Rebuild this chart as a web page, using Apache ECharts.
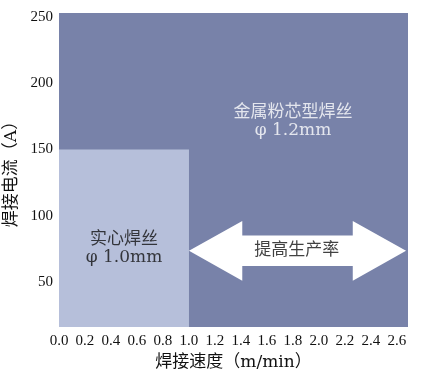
<!DOCTYPE html>
<html>
<head>
<meta charset="utf-8">
<script src="https://cdn.jsdelivr.net/npm/echarts@6/dist/echarts.min.js"></script>
<style>html,body{margin:0;padding:0;background:#fff;}#c{width:424px;height:377px;}</style>
</head>
<body>
<div id="c"></div>
<script>
var xTicks = [0, 0.2, 0.4, 0.6, 0.8, 1.0, 1.2, 1.4, 1.6, 1.8, 2.0, 2.2, 2.4, 2.6];
var yTicks = [50, 100, 150, 200, 250];
var xRange = [0, 2.685];
var yRange = [16, 253];
// solid wire region: speed 0..1.0 m/min, current up to 150 A
var solidRegion = { x: [0, 1.0], y: [16, 150] };
// arrow: from speed 1.0 to 2.67, centred at 73.5 A
var arrow = { x0: 1.0, x1: 2.67, yc: 73.5, headHalf: 22.5, shaftHalf: 11.5, headLen: 0.41 };
var labels = [
  { name: '金属粉芯型焊丝\nφ 1.2mm', x: 1.8, y: 171, color: '#ffffff' },
  { name: '实心焊丝\nφ 1.0mm', x: 0.5, y: 75, color: '#111111' },
  { name: '提高生产率', x: 1.83, y: 73.5, color: '#111111' }
];

var serif = '"DejaVu Serif", "Noto Sans CJK SC", serif';
var tickFont = '"Liberation Serif", "DejaVu Serif", serif';
var chart = echarts.init(document.getElementById('c'));
chart.setOption({
  backgroundColor: '#ffffff',
  animation: false,
  grid: { left: 59, right: 16, top: 13, bottom: 50, show: true, backgroundColor: '#7882a9', borderWidth: 0,
    containLabel: false, outerBoundsMode: 'none' },
  xAxis: {
    type: 'value', min: xRange[0], max: xRange[1],
    name: '焊接速度（m/min）', nameLocation: 'middle', nameGap: 19,
    nameTextStyle: { fontSize: 17, color: '#111', fontFamily: serif },
    axisLine: { show: false }, axisTick: { show: false }, splitLine: { show: false },
    axisLabel: { customValues: xTicks, fontSize: 15, color: '#111', fontFamily: tickFont, margin: 7,
      formatter: function (v) { return v.toFixed(1); } }
  },
  yAxis: {
    type: 'value', min: yRange[0], max: yRange[1],
    name: '焊接电流（A）', nameLocation: 'middle', nameGap: 35,
    nameTextStyle: { fontSize: 17, color: '#111', fontFamily: serif },
    axisLine: { show: false }, axisTick: { show: false }, splitLine: { show: false },
    axisLabel: { customValues: yTicks, fontSize: 15, color: '#111', fontFamily: tickFont, margin: 6 }
  },
  series: [
    {
      type: 'custom',
      coordinateSystem: 'cartesian2d',
      data: [[solidRegion.x[0], solidRegion.y[0], solidRegion.x[1], solidRegion.y[1]]],
      renderItem: function (params, api) {
        var p0 = api.coord([api.value(0), api.value(3)]);
        var p1 = api.coord([api.value(2), api.value(1)]);
        return { type: 'rect', shape: { x: p0[0], y: p0[1], width: p1[0] - p0[0], height: p1[1] - p0[1] },
          style: { fill: '#b6bfda' } };
      },
      silent: true, z: 1
    },
    {
      type: 'custom',
      coordinateSystem: 'cartesian2d',
      data: [[arrow.x0, arrow.x1, arrow.yc, arrow.headHalf, arrow.shaftHalf, arrow.headLen]],
      renderItem: function (params, api) {
        var x0 = api.value(0), x1 = api.value(1), yc = api.value(2);
        var hh = api.value(3), sh = api.value(4), hl = api.value(5);
        var pts = [
          [x0, yc], [x0 + hl, yc + hh], [x0 + hl, yc + sh], [x1 - hl, yc + sh], [x1 - hl, yc + hh],
          [x1, yc], [x1 - hl, yc - hh], [x1 - hl, yc - sh], [x0 + hl, yc - sh], [x0 + hl, yc - hh]
        ].map(function (p) { return api.coord(p); });
        return { type: 'polygon', shape: { points: pts }, style: { fill: '#ffffff' } };
      },
      silent: true, z: 2
    },
    {
      type: 'scatter',
      symbolSize: 0,
      silent: true, z: 3,
      data: labels.map(function (l) {
        return { value: [l.x, l.y], label: { show: true, position: 'inside', formatter: l.name,
          color: l.color, fontSize: 17, lineHeight: 18, fontFamily: serif } };
      })
    }
  ]
});
</script>
</body>
</html>
